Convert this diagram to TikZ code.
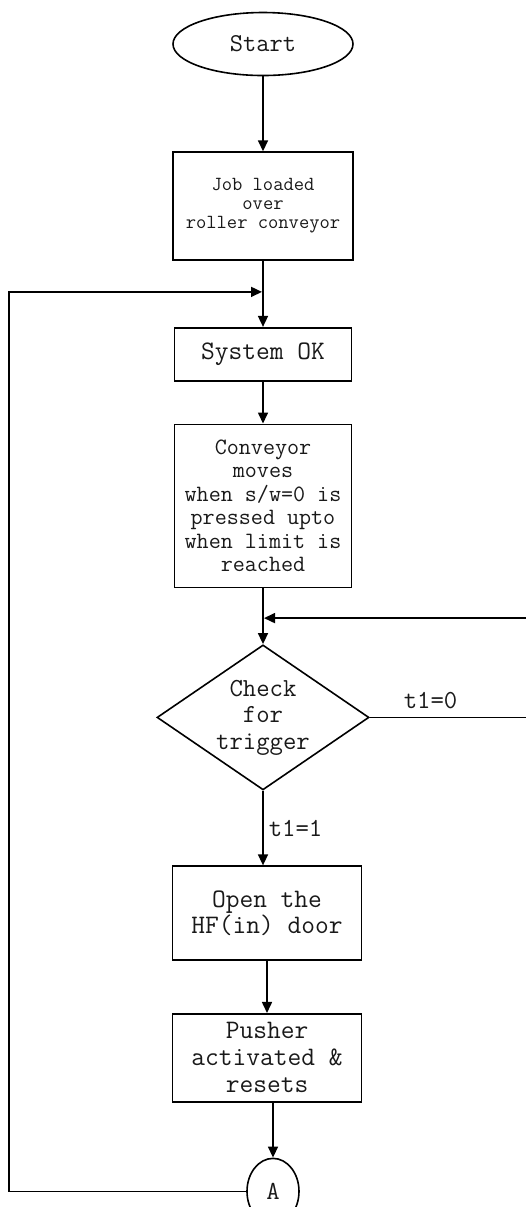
\documentclass[tikz,border=0pt]{standalone}
\usepackage{fontspec}
\usetikzlibrary{matrix,shapes.geometric,arrows.meta}
\newcommand{\chartsize}[2]{\ttfamily\fontsize{#1}{#2}\selectfont}

\tikzset{
  term/.style={draw, ellipse, line width=1.6pt, inner sep=0pt, text=black!90},
  proc/.style={draw, rectangle, line width=1.6pt, inner sep=0pt, align=center, text=black!90},
  test/.style={draw, diamond, aspect=1.46, line width=1.6pt, inner sep=0pt, align=center, text=black!90},
  conn/.style={draw, ellipse, line width=1.6pt, inner sep=0pt, text=black!90},
  lbl/.style={inner sep=2pt, text=black!90, font=\chartsize{26}{26}},
  flow/.style={-{Triangle[length=11pt,width=10pt]}, line width=1.6pt}
}

\begin{document}
\begin{tikzpicture}[x=1pt,y=1pt]
	\useasboundingbox (0,0) rectangle (526,-1207);
	\matrix (m) [row sep=0pt, inner sep=0pt, anchor=north] at (263,-11.5)
	{
		\node (start) [term, minimum width=180pt, minimum height=63pt, font=\chartsize{25.7}{26}] {Start}; \\[75pt]
		\node (job) [proc, minimum width=180pt, minimum height=108pt, font=\chartsize{20}{19}] {Job loaded\\over\\roller conveyor}; \\[66pt]
		\node (sysok) [proc, minimum width=177pt, minimum height=53pt, font=\chartsize{26.7}{27}] {System OK}; \\[42pt]
		\node (conv) [proc, minimum width=177pt, minimum height=163pt, font=\chartsize{23.4}{23.5}] {Conveyor\\moves\\when s/w=0 is\\pressed upto\\when limit is\\reached}; \\[56pt]
		\node (check) [test, minimum width=212pt, minimum height=145pt, font=\chartsize{26}{26.5}] {Check\\for\\trigger}; \\[75pt]
		\node (door) [proc, xshift=4pt, minimum width=189pt, minimum height=94pt, font=\chartsize{26.7}{26.5}] {Open the\\HF(in) door}; \\[52pt]
		\node (push) [proc, xshift=4pt, minimum width=189pt, minimum height=88pt, font=\chartsize{26.7}{27}] {Pusher\\activated \&\\resets}; \\[55pt]
		\node (conA) [conn, xshift=10pt, minimum width=52pt, minimum height=66pt, font=\chartsize{26}{26}] {A}; \\
	};
	\coordinate (join1) at ([yshift=-31pt]job.south);
	\coordinate (join2) at ([yshift=-30pt]conv.south);
	\path[flow]
		(start) edge (job)
		(job) edge (sysok)
		(sysok) edge (conv)
		(conv) edge (check)
		(check.south) edge node [right=3pt, midway, lbl] {t1=1} (check.south |- door.north)
		(door) edge (push)
		(conA.north |- push.south) edge (conA.north);
	% back to the start of the cycle
	\draw[flow, shorten >=1pt] (conA.west) -- ++(-237,0) |- (join1);
	% wait for the trigger
	\draw[flow, shorten >=1pt] (check.east) -- node [above=6pt, pos=0.38, lbl] {t1=0} ++(160,0) |- (join2);
\end{tikzpicture}
\end{document}
